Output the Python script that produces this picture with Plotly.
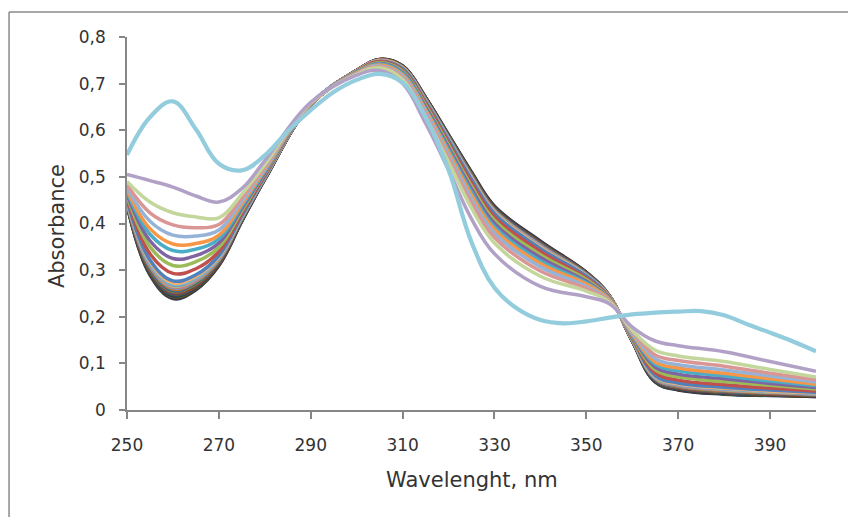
import plotly.graph_objects as go

# Wavelength grid (nm) shared by the titration spectra
wavelength = [250, 255, 260, 265, 270, 275, 280, 290, 300, 305, 310, 315,
              320, 325, 330, 340, 350, 355, 360, 365, 370, 380, 390, 400]

# Absorbance spectra, first recorded (s01) to last (s28)
s01 = [0.440, 0.290, 0.239, 0.258, 0.310, 0.405, 0.495, 0.655, 0.728, 0.752, 0.738, 0.670, 0.590, 0.510, 0.437, 0.362, 0.295, 0.245, 0.148, 0.060, 0.043, 0.034, 0.031, 0.029]
s02 = [0.441, 0.292, 0.241, 0.260, 0.311, 0.406, 0.495, 0.655, 0.728, 0.752, 0.738, 0.670, 0.589, 0.509, 0.436, 0.361, 0.295, 0.245, 0.148, 0.061, 0.044, 0.035, 0.032, 0.029]
s03 = [0.441, 0.293, 0.243, 0.261, 0.312, 0.406, 0.496, 0.655, 0.728, 0.752, 0.737, 0.669, 0.589, 0.508, 0.435, 0.360, 0.294, 0.245, 0.148, 0.061, 0.045, 0.035, 0.032, 0.030]
s04 = [0.442, 0.295, 0.245, 0.263, 0.313, 0.407, 0.496, 0.655, 0.728, 0.751, 0.737, 0.669, 0.588, 0.508, 0.435, 0.360, 0.294, 0.245, 0.149, 0.062, 0.045, 0.036, 0.033, 0.030]
s05 = [0.442, 0.296, 0.247, 0.264, 0.314, 0.407, 0.496, 0.655, 0.728, 0.751, 0.737, 0.668, 0.588, 0.507, 0.434, 0.359, 0.293, 0.244, 0.149, 0.063, 0.046, 0.037, 0.033, 0.031]
s06 = [0.443, 0.298, 0.249, 0.266, 0.315, 0.408, 0.497, 0.655, 0.728, 0.751, 0.736, 0.668, 0.587, 0.506, 0.433, 0.358, 0.293, 0.244, 0.149, 0.064, 0.047, 0.038, 0.034, 0.031]
s07 = [0.443, 0.300, 0.250, 0.268, 0.316, 0.409, 0.497, 0.655, 0.728, 0.751, 0.736, 0.667, 0.586, 0.505, 0.432, 0.357, 0.293, 0.244, 0.149, 0.064, 0.048, 0.038, 0.035, 0.032]
s08 = [0.444, 0.301, 0.252, 0.269, 0.317, 0.409, 0.497, 0.655, 0.727, 0.751, 0.736, 0.667, 0.586, 0.504, 0.431, 0.357, 0.292, 0.244, 0.150, 0.065, 0.048, 0.039, 0.035, 0.032]
s09 = [0.444, 0.303, 0.254, 0.271, 0.319, 0.410, 0.498, 0.655, 0.727, 0.750, 0.736, 0.666, 0.585, 0.504, 0.430, 0.356, 0.292, 0.244, 0.150, 0.066, 0.049, 0.040, 0.036, 0.032]
s10 = [0.445, 0.305, 0.256, 0.273, 0.320, 0.410, 0.498, 0.655, 0.727, 0.750, 0.735, 0.666, 0.585, 0.503, 0.430, 0.355, 0.291, 0.244, 0.150, 0.066, 0.050, 0.041, 0.036, 0.033]
s11 = [0.445, 0.306, 0.258, 0.274, 0.321, 0.411, 0.498, 0.655, 0.727, 0.750, 0.735, 0.666, 0.584, 0.502, 0.429, 0.354, 0.291, 0.244, 0.150, 0.067, 0.051, 0.041, 0.037, 0.033]
s12 = [0.446, 0.308, 0.260, 0.276, 0.322, 0.412, 0.499, 0.655, 0.727, 0.750, 0.735, 0.665, 0.583, 0.501, 0.428, 0.353, 0.290, 0.243, 0.151, 0.068, 0.051, 0.042, 0.037, 0.034]
s13 = [0.446, 0.309, 0.262, 0.277, 0.323, 0.412, 0.499, 0.655, 0.727, 0.750, 0.734, 0.665, 0.583, 0.500, 0.427, 0.353, 0.290, 0.243, 0.151, 0.068, 0.052, 0.043, 0.038, 0.034]
s14 = [0.447, 0.311, 0.264, 0.279, 0.324, 0.413, 0.499, 0.656, 0.727, 0.750, 0.734, 0.664, 0.582, 0.500, 0.426, 0.352, 0.290, 0.243, 0.151, 0.069, 0.053, 0.043, 0.039, 0.035]
s15 = [0.447, 0.313, 0.266, 0.281, 0.325, 0.413, 0.499, 0.656, 0.727, 0.749, 0.734, 0.664, 0.582, 0.499, 0.426, 0.351, 0.289, 0.243, 0.151, 0.070, 0.054, 0.044, 0.039, 0.035]
s16 = [0.448, 0.314, 0.268, 0.282, 0.326, 0.414, 0.500, 0.656, 0.727, 0.749, 0.733, 0.663, 0.581, 0.498, 0.425, 0.350, 0.289, 0.243, 0.152, 0.071, 0.054, 0.045, 0.040, 0.035]
s17 = [0.448, 0.316, 0.270, 0.284, 0.327, 0.415, 0.500, 0.656, 0.727, 0.749, 0.733, 0.663, 0.580, 0.497, 0.424, 0.349, 0.288, 0.243, 0.152, 0.071, 0.055, 0.046, 0.040, 0.036]
s18 = [0.449, 0.319, 0.273, 0.287, 0.329, 0.416, 0.501, 0.656, 0.727, 0.749, 0.733, 0.662, 0.579, 0.496, 0.423, 0.348, 0.288, 0.243, 0.152, 0.072, 0.056, 0.047, 0.041, 0.037]
s19 = [0.450, 0.322, 0.277, 0.290, 0.331, 0.417, 0.501, 0.656, 0.726, 0.748, 0.732, 0.661, 0.578, 0.494, 0.421, 0.346, 0.287, 0.242, 0.153, 0.074, 0.058, 0.049, 0.043, 0.038]
s20 = [0.455, 0.335, 0.293, 0.303, 0.340, 0.422, 0.504, 0.656, 0.726, 0.747, 0.729, 0.658, 0.573, 0.487, 0.414, 0.340, 0.283, 0.241, 0.155, 0.080, 0.064, 0.054, 0.047, 0.041]
s21 = [0.459, 0.350, 0.310, 0.318, 0.349, 0.427, 0.507, 0.656, 0.725, 0.745, 0.727, 0.654, 0.568, 0.480, 0.407, 0.333, 0.280, 0.240, 0.157, 0.086, 0.071, 0.061, 0.053, 0.045]
s22 = [0.463, 0.363, 0.325, 0.331, 0.358, 0.432, 0.509, 0.657, 0.724, 0.743, 0.724, 0.650, 0.563, 0.474, 0.400, 0.327, 0.276, 0.239, 0.159, 0.092, 0.077, 0.067, 0.057, 0.048]
s23 = [0.468, 0.377, 0.342, 0.345, 0.367, 0.437, 0.512, 0.657, 0.724, 0.742, 0.722, 0.646, 0.558, 0.467, 0.393, 0.320, 0.273, 0.238, 0.161, 0.098, 0.084, 0.073, 0.062, 0.052]
s24 = [0.472, 0.389, 0.356, 0.357, 0.375, 0.442, 0.515, 0.657, 0.723, 0.740, 0.719, 0.643, 0.553, 0.461, 0.387, 0.314, 0.270, 0.237, 0.163, 0.103, 0.090, 0.079, 0.067, 0.055]
s25 = [0.477, 0.405, 0.375, 0.373, 0.386, 0.448, 0.518, 0.658, 0.722, 0.738, 0.716, 0.639, 0.547, 0.453, 0.379, 0.307, 0.265, 0.235, 0.165, 0.110, 0.097, 0.086, 0.073, 0.060]
s26 = [0.483, 0.423, 0.397, 0.391, 0.398, 0.455, 0.521, 0.658, 0.721, 0.736, 0.713, 0.634, 0.540, 0.444, 0.370, 0.298, 0.261, 0.234, 0.168, 0.118, 0.106, 0.094, 0.079, 0.065]
s27 = [0.490, 0.446, 0.423, 0.414, 0.412, 0.463, 0.526, 0.659, 0.720, 0.734, 0.709, 0.628, 0.532, 0.433, 0.358, 0.287, 0.255, 0.232, 0.171, 0.128, 0.116, 0.104, 0.087, 0.071]
s28 = [0.505, 0.492, 0.478, 0.459, 0.446, 0.475, 0.535, 0.660, 0.718, 0.728, 0.700, 0.615, 0.515, 0.410, 0.335, 0.265, 0.243, 0.228, 0.178, 0.148, 0.138, 0.125, 0.104, 0.083]

# Final spectrum, sampled on its own grid
final_wl = [250, 255, 260, 265, 270, 275, 280, 285, 290, 295, 300, 305, 310, 315,
            320, 325, 330, 335, 340, 345, 350, 355, 360, 365, 370, 375, 380, 385,
            390, 395, 400]
final_abs = [0.547, 0.628, 0.662, 0.602, 0.528, 0.514, 0.546, 0.598, 0.643, 0.682,
             0.708, 0.721, 0.702, 0.628, 0.515, 0.360, 0.262, 0.217, 0.193, 0.186,
             0.190, 0.198, 0.205, 0.209, 0.211, 0.212, 0.203, 0.184, 0.166, 0.147,
             0.126]

# Office-style series colours, first to last
series_colors = [
    "#243F60", "#632423", "#4F6128", "#3F3151", "#205867", "#974806",
    "#365F91", "#943634", "#76923C", "#5F497A", "#31849B", "#E36C0A",
    "#729ACA", "#CD7371", "#AFC97A", "#9983B5", "#6FBDD1", "#F9AB6B",
    "#4F81BD", "#C0504D", "#9BBB59", "#8064A2", "#4BACC6", "#F79646",
    "#95B3D7", "#D99694", "#C3D69B", "#B2A1C7",
]
final_color = "#93CDDD"

x_ticks = [250, 270, 290, 310, 330, 350, 370, 390]
y_ticks = [0, 0.1, 0.2, 0.3, 0.4, 0.5, 0.6, 0.7, 0.8]
y_tick_text = ["0", "0,1", "0,2", "0,3", "0,4", "0,5", "0,6", "0,7", "0,8"]

family = [s01, s02, s03, s04, s05, s06, s07, s08, s09, s10, s11, s12, s13, s14,
          s15, s16, s17, s18, s19, s20, s21, s22, s23, s24, s25, s26, s27, s28]

fig = go.Figure()
for values, color in zip(family, series_colors):
    fig.add_trace(go.Scatter(
        x=wavelength, y=values, mode="lines",
        line=dict(color=color, width=3.5, shape="spline", smoothing=1.1),
        showlegend=False, hoverinfo="skip",
    ))
fig.add_trace(go.Scatter(
    x=final_wl, y=final_abs, mode="lines",
    line=dict(color=final_color, width=4.2, shape="spline", smoothing=1.1),
    showlegend=False, hoverinfo="skip",
))

axis_gray = "#868686"
text_color = "#333333"
frame = dict(color="#8A8A8A", width=1.5)

fig.update_layout(
    width=848, height=517,
    margin=dict(l=127, r=32, t=37, b=107),
    paper_bgcolor="white", plot_bgcolor="white",
    font=dict(family="DejaVu Sans", color=text_color, size=17),
    xaxis=dict(
        range=[250, 400], tickvals=x_ticks, showgrid=False, zeroline=False,
        showline=True, linecolor=axis_gray, linewidth=1.5,
        ticks="outside", ticklen=7, tickwidth=1.5, tickcolor=axis_gray,
        tickfont=dict(size=17, color=text_color), ticklabelstandoff=12,
    ),
    yaxis=dict(
        range=[0, 0.8], tickvals=y_ticks, ticktext=y_tick_text,
        showgrid=False, zeroline=False,
        showline=True, linecolor=axis_gray, linewidth=1.5,
        ticks="outside", ticklen=6, tickwidth=1.5, tickcolor=axis_gray,
        tickfont=dict(size=17, color=text_color), ticklabelstandoff=10,
    ),
    annotations=[
        dict(text="Wavelenght, nm", xref="paper", yref="paper",
             x=0.5007, y=-0.1877, xanchor="center", yanchor="middle",
             showarrow=False, font=dict(size=21, color=text_color)),
        dict(text="Absorbance", xref="paper", yref="paper",
             x=-0.1016, y=0.493, xanchor="center", yanchor="middle",
             textangle=-90, showarrow=False,
             font=dict(size=21, color=text_color)),
    ],
    # chart-area border: top and left edges
    shapes=[
        dict(type="line", xref="paper", yref="paper",
             x0=-0.1712, x1=1.08, y0=1.067, y1=1.067, line=frame),
        dict(type="line", xref="paper", yref="paper",
             x0=-0.1712, x1=-0.1712, y0=-0.3, y1=1.067, line=frame),
    ],
)

fig.write_html("out.html")
